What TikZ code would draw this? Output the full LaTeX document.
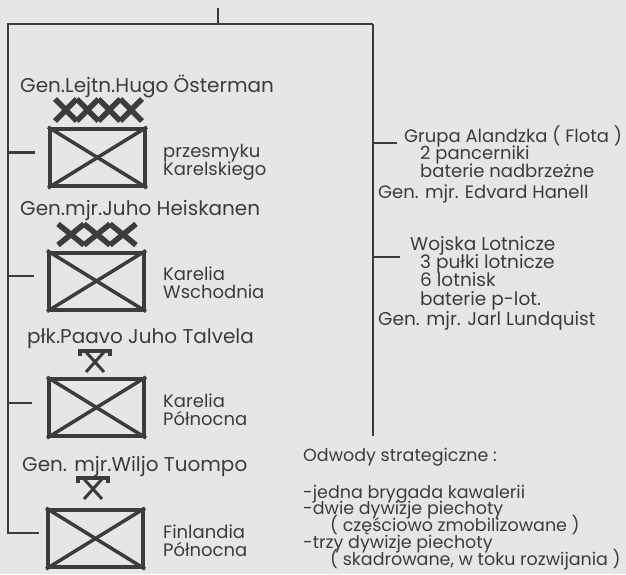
\documentclass[tikz,border=0pt]{standalone}
\usepackage{fontspec}
\setmainfont{Poppins}
\usetikzlibrary{positioning,calc}
\definecolor{paper}{HTML}{E6E6E4}
\definecolor{ink}{HTML}{3C3C3C}
\newcommand\tightlines{\lineskiplimit=-9pt\relax}

\begin{document}
\begin{tikzpicture}[x=1pt,y=-1pt,
	txt/.style={inner sep=0pt,text=ink,font=\fontsize{18}{18}\selectfont\tightlines,align=left,anchor=base west},
	boss/.style={txt,font=\fontsize{20}{20}\selectfont},
	unit/.style={draw=ink,line width=4pt,minimum width=95pt,minimum height=57pt,inner sep=0pt},
	link/.style={draw=ink,line width=2.5pt},
	cross/.style={draw=ink,line width=3.5pt}
	]
	\fill[paper] (0,0) rectangle (626,574);
	\useasboundingbox (0,0) rectangle (626,574);
	% trunk
	\coordinate (hq) at (218,8);
	\coordinate (tl) at (8,24);
	\coordinate (tr) at (373,24);
	\coordinate (rb) at (373,436);
	% units
	\node[unit] (ostB) at (97.5,157.5) {};
	\node[unit] (heiB) at (96.5,281) {};
	\node[unit] (talB) at (96.5,407.5) {};
	\node[unit] (tuoB) at (95.5,538.5) {};
	\foreach \b in {ostB,heiB,talB,tuoB}{
		\draw[cross] (\b.north west) -- (\b.south east);
		\draw[cross] (\b.south west) -- (\b.north east);
	}
	% army and corps marks
	\foreach \i in {0,...,3}
		\draw[ink,line width=5.5pt] (55+21.75*\i,99) -- (76.75+21.75*\i,121) (76.75+21.75*\i,99) -- (55+21.75*\i,121);
	\foreach \i in {0,...,2}
		\draw[ink,line width=5.5pt] (58+26*\i,224) -- (84+26*\i,245) (84+26*\i,224) -- (58+26*\i,245);
	% group marks
	\foreach \x/\y in {80/351,78/478}{
		\draw[ink,line width=3.5pt] (\x,\y+5) -- (\x,\y) -- (\x+30,\y) -- (\x+30,\y+5);
		\draw[ink,line width=3pt] (\x+6,\y+1) -- (\x+24,\y+21) (\x+24,\y+1) -- (\x+6,\y+21);
	}
	% commanders
	\node[boss] (ost) at (20,92) {Gen.Lejtn.Hugo Österman};
	\node[boss] (hei) at (20,215) {Gen.mjr.Juho Heiskanen};
	\node[boss] (tal) at (27,343) {płk.Paavo Juho Talvela};
	\node[boss] (tuo) at (22,471) {Gen. mjr.Wiljo Tuompo};
	% areas (base = last line)
	\node[txt] (ostR) at (163,175) {przesmyku\\Karelskiego};
	\node[txt] (heiR) at (163,298) {Karelia\\Wschodnia};
	\node[txt] (talR) at (163,425) {Karelia\\Północna};
	\node[txt] (tuoR) at (163,556) {Finlandia\\Północna};
	% right side
	\node[txt,font=\fontsize{18}{17.5}\selectfont\tightlines] (flota) at (378,198) {\hspace*{26pt}Grupa Alandzka ( Flota )\\
		\hspace*{42pt}2 pancerniki\\
		\hspace*{42pt}baterie nadbrzeżne\\[3.5pt]
		Gen. mjr. Edvard Hanell};
	\node[txt,font=\fontsize{18.5}{18.3}\selectfont\tightlines] (lot) at (378,325) {\hspace*{32pt}Wojska Lotnicze\\
		\hspace*{42pt}3 pułki lotnicze\\
		\hspace*{42pt}6 lotnisk\\
		\hspace*{42pt}baterie p-lot.\\[1.7pt]
		Gen. mjr. Jarl Lundquist};
	\node[txt,font=\fontsize{17.5}{16.75}\selectfont\tightlines] (odw) at (303,565) {Odwody strategiczne :\\[19.3pt]
		-jedna brygada kawalerii\\
		-dwie dywizje piechoty\\
		\hspace*{27pt}( częściowo zmobilizowane )\\
		-trzy dywizje piechoty\\
		\hspace*{27pt}( skadrowane, w toku rozwijania )};
	% links
	\coordinate (j1) at ([xshift=-13pt,yshift=5pt]ostB.west);
	\coordinate (j2) at ([xshift=-13pt,yshift=5pt]heiB.west);
	\coordinate (j3) at ([xshift=-15pt,yshift=4.5pt]talB.west);
	\coordinate (j4) at ([xshift=-7pt,yshift=5.5pt]tuoB.west);
	\coordinate (ja) at (397,143);
	\coordinate (jb) at (400,257);
	\draw[link] (hq) -- (hq |- tl);
	\draw[link] (tr) -- (tl) |- (j4);
	\draw[link] (tr) -- (rb);
	\foreach \j in {j1,j2,j3}
		\draw[link] (tl |- \j) -- (\j);
	\foreach \j in {ja,jb}
		\draw[link] (tr |- \j) -- (\j);
\end{tikzpicture}
\end{document}
